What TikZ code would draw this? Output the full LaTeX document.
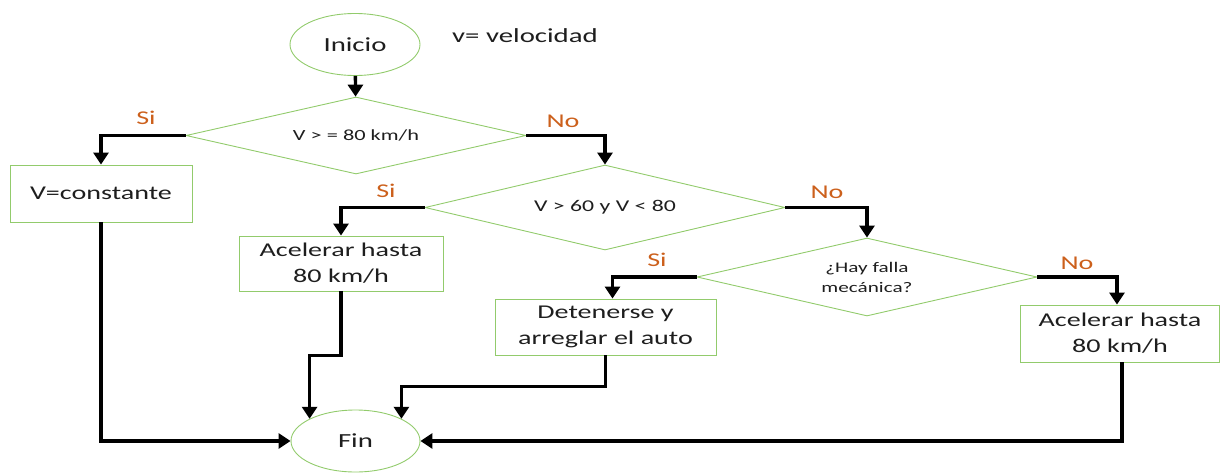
\documentclass[tikz,border=0pt]{standalone}
\usepackage{fontspec}
\setmainfont[FakeStretch=1.44]{Carlito}
\usetikzlibrary{shapes.geometric,arrows.meta}
\definecolor{boxgreen}{RGB}{146,203,108}
\definecolor{lblorange}{RGB}{204,96,28}
\definecolor{txt}{RGB}{30,30,30}
\tikzset{
  ovalbox/.style={ellipse,draw=boxgreen,line width=0.9pt,inner sep=0pt,
    minimum width=#1,minimum height=62pt,text=txt,font=\fontsize{20}{24}\selectfont},
  procbox/.style={rectangle,draw=boxgreen,line width=0.9pt,inner sep=0pt,
    align=center,text=txt,font=\fontsize{19.5}{26}\selectfont},
  decision/.style={diamond,draw=boxgreen,line width=0.9pt,inner sep=0pt,
    align=center,text=txt},
  branch/.style={text=lblorange,font=\fontsize{19.5}{24}\selectfont,inner sep=0pt},
  flow/.style={line width=3.3pt,black,
    -{Triangle[length=12pt,width=15pt]}}
}
\begin{document}
\begin{tikzpicture}[x=1pt,y=-1pt]
\useasboundingbox (0,0) rectangle (1223,472);

% start / end
\node[ovalbox=130pt] (ini) at (355,44.5) {Inicio};
\node[ovalbox=129pt] (fin) at (355.5,441) {Fin};
\node[text=txt,font=\fontsize{20}{24}\selectfont,inner sep=0pt] (vel) at (525,36) {v= velocidad};

% decisions
\node[decision,shape aspect=4.42,minimum width=340pt,minimum height=77pt,
  font=\fontsize{15.5}{19}\selectfont] (d1) at (356,135.5) {V > = 80 km/h};
\node[decision,shape aspect=4.24,minimum width=360pt,minimum height=85pt,
  font=\fontsize{16.5}{20}\selectfont] (d2) at (605,207.5) {V > 60 y V < 80};
\node[decision,shape aspect=4.36,minimum width=340pt,minimum height=78pt,
  font=\fontsize{14.7}{20}\selectfont] (d3) at (867,277) {¿Hay falla\\mecánica?};

% actions
\node[procbox,minimum width=182pt,minimum height=57pt] (vc) at (101,193.5) {V=constante};
\node[procbox,minimum width=204pt,minimum height=55pt] (ac1) at (341,263.5) {Acelerar hasta\\80 km/h};
\node[procbox,minimum width=221pt,minimum height=56pt] (det) at (605.5,327) {Detenerse y\\arreglar el auto};
\node[procbox,minimum width=199pt,minimum height=57pt] (ac2) at (1120,333.5) {Acelerar hasta\\80 km/h};

% branch labels
\node[branch] (s1) at (146,118) {Si};
\node[branch] (n1) at (563,121) {No};
\node[branch] (s2) at (386,191) {Si};
\node[branch] (n2) at (827,192) {No};
\node[branch] (s3) at (657,260) {Si};
\node[branch] (n3) at (1077,263) {No};

% connectors
\draw[flow] (ini) -- (d1);
\draw[flow] (d1.west) -| (vc.north);
\draw[flow] (d1.east) -| (d2.north);
\draw[flow] (d2.west) -| (ac1.north);
\draw[flow] (d2.east) -| (d3.north);
\draw[flow] (d3.west) -| ([xshift=7pt]det.north);
\draw[flow] (d3.east) -| ([xshift=-3pt]ac2.north);
\draw[flow] (vc.south) |- (fin.west);
\draw[flow] (ac1.south) -- ++(0,64) -| (fin.north west);
\draw[flow] (det.south) -- ++(0,31) -| (fin.north east);
\draw[flow] ([xshift=2pt]ac2.south) |- (fin.east);
\end{tikzpicture}
\end{document}
